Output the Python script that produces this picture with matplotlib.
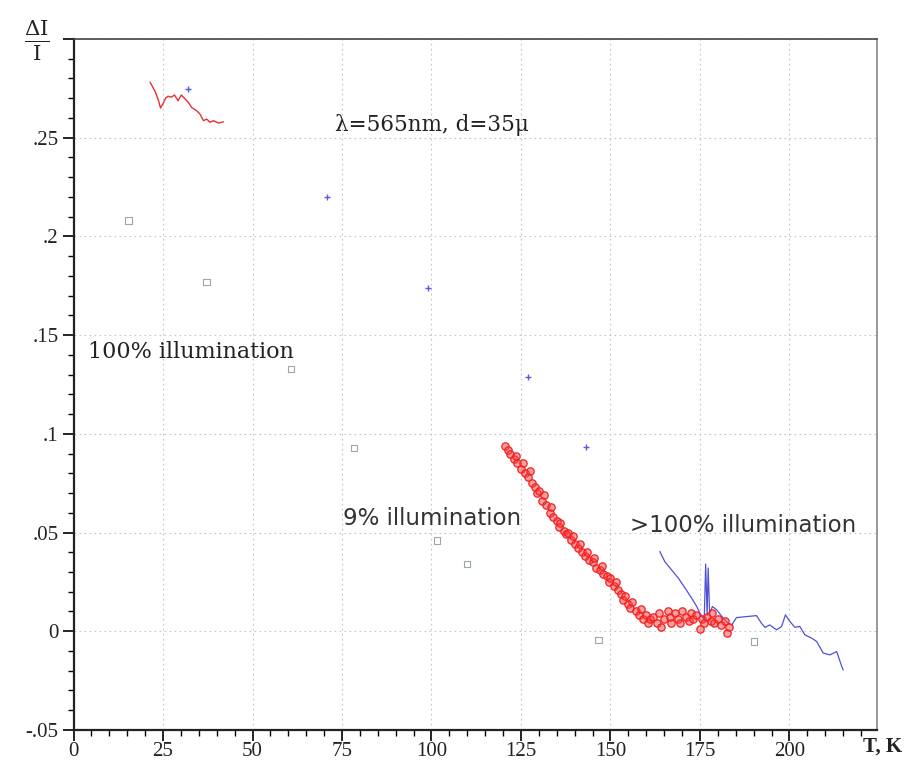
import matplotlib.pyplot as plt
from matplotlib.ticker import MultipleLocator, FixedLocator

plt.rcParams['font.family'] = ['DejaVu Serif']
plt.rcParams['mathtext.fontset'] = 'dejavuserif'

# 100% illumination, low-T red trace
t_red = [21.4, 22.8, 23.7, 24.3, 25.1, 25.7, 26.4, 27.3, 28.2, 29.2, 30.1, 31.1,
         32.0, 33.0, 34.4, 35.3, 36.3, 37.2, 38.1, 39.1, 40.5, 41.8]
y_red = [0.278, 0.2734, 0.269, 0.265, 0.2676, 0.270, 0.271, 0.2705, 0.2716, 0.2687,
         0.2716, 0.2697, 0.268, 0.2653, 0.2636, 0.262, 0.2586, 0.2594, 0.2578,
         0.2586, 0.2574, 0.258]

# blue "+" points
t_plus = [32.0, 70.8, 99.0, 126.9, 143.2]
y_plus = [0.2747, 0.220, 0.1737, 0.1286, 0.0933]

# open squares
t_sq = [15.3, 37.2, 60.7, 78.4, 101.5, 109.9, 146.6, 190.1]
y_sq = [0.208, 0.1769, 0.1328, 0.0928, 0.046, 0.034, -0.0044, -0.0052]

# 9% illumination (red circles)
t_9 = [120.5, 121.5, 122, 123, 123.5, 124, 125, 125.5, 126, 127, 127.5, 128, 129,
       129.5, 130, 131, 131.5, 132, 133, 133.5, 134, 135, 135.5, 136, 137, 137.5,
       138, 139, 139.5, 140, 141, 141.5, 142, 143, 143.5, 144, 145, 145.5, 146,
       147, 147.5, 148, 149, 149.5, 150, 151, 151.5, 152, 153, 153.5, 154, 155,
       155.5, 156, 157, 158, 158.5, 159, 160, 160.5, 161, 162, 163, 163.5, 164,
       165, 166, 166.5, 167, 168, 169, 169.5, 170, 171, 172, 172.5, 173, 174,
       175, 175.5, 176, 177, 178, 178.5, 179, 180, 181, 182, 182.5, 183]
y_9 = [0.094, 0.092, 0.090, 0.087, 0.089, 0.085, 0.082, 0.085, 0.080, 0.078, 0.081,
       0.075, 0.073, 0.070, 0.071, 0.066, 0.069, 0.064, 0.060, 0.063, 0.058, 0.056,
       0.053, 0.055, 0.051, 0.049, 0.050, 0.046, 0.048, 0.044, 0.042, 0.044, 0.040,
       0.038, 0.040, 0.036, 0.035, 0.037, 0.032, 0.031, 0.033, 0.029, 0.028, 0.025,
       0.027, 0.023, 0.025, 0.021, 0.019, 0.016, 0.018, 0.014, 0.012, 0.015, 0.010,
       0.008, 0.011, 0.006, 0.008, 0.004, 0.006, 0.007, 0.004, 0.009, 0.002, 0.006,
       0.010, 0.007, 0.004, 0.009, 0.006, 0.004, 0.010, 0.007, 0.005, 0.009, 0.006,
       0.008, 0.001, 0.006, 0.004, 0.007, 0.005, 0.009, 0.004, 0.006, 0.003, 0.005,
       -0.001, 0.002]

# >100% illumination (blue line)
t_blue = [163.8, 165.2, 167.1, 169.0, 170.9, 172.7, 174.1, 175.0, 176.2, 176.6,
          177.0, 177.3, 177.7, 178.5, 179.7, 181.5, 182.9, 183.9, 185.2, 188.0,
          190.8, 192.2, 193.2, 194.5, 196.4, 197.8, 198.9, 200.1, 201.5, 202.9,
          204.3, 206.2, 207.6, 209.4, 211.3, 213.2, 214.6, 215.0]
y_blue = [0.0403, 0.0352, 0.031, 0.0268, 0.0217, 0.0167, 0.0125, 0.0091, 0.006,
          0.034, 0.008, 0.032, 0.009, 0.0125, 0.0108, 0.0066, 0.004, 0.0032, 0.0069,
          0.0074, 0.0079, 0.004, 0.0019, 0.0032, 0.0007, 0.0024, 0.0083, 0.005,
          0.002, 0.0024, -0.0018, -0.0035, -0.0052, -0.011, -0.012, -0.0103,
          -0.0178, -0.0195]

x_ticks = [0, 25, 50, 75, 100, 125, 150, 175, 200]
x_labels = ['0', '25', '50', '75', '100', '125', '150', '175', '200']
y_ticks = [-0.05, 0, 0.05, 0.1, 0.15, 0.2, 0.25]
y_labels = ['-.05', '0', '.05', '.1', '.15', '.2', '.25']

fig = plt.figure(figsize=(9.08, 7.79), dpi=100)
ax = fig.add_axes([0.081, 0.063, 0.885, 0.887])

ax.plot(t_red, y_red, color='#e83030', lw=1.0)
ax.plot(t_blue, y_blue, color='#5050d8', lw=0.9)
ax.scatter(t_9, y_9, s=28, facecolor=(1, 0.25, 0.25, 0.5), edgecolor='#f02020',
           linewidths=0.9, zorder=3)
ax.scatter(t_plus, y_plus, marker='+', s=22, color='#5a5ad8', linewidths=1.0, zorder=4)
ax.scatter(t_sq, y_sq, marker='s', s=22, facecolor='none', edgecolor='#9aaa9e',
           linewidths=0.8, zorder=4)

ax.set_xlim(0, 224.5)
ax.set_ylim(-0.05, 0.3)
ax.xaxis.set_major_locator(FixedLocator(x_ticks + [225]))
ax.set_xticklabels(x_labels + [''])
ax.xaxis.set_minor_locator(MultipleLocator(5))
ax.yaxis.set_major_locator(FixedLocator(y_ticks + [0.3]))
ax.set_yticklabels(y_labels + [''])
ax.yaxis.set_minor_locator(MultipleLocator(0.01))
ax.tick_params(which='major', length=8, width=1.2, direction='out', labelsize=15)
ax.tick_params(axis='x', which='major', pad=1)
ax.tick_params(axis='y', which='major', pad=3)
ax.tick_params(which='minor', length=4, width=1.0, direction='out')
ax.tick_params(axis='x', which='both', top=False)
ax.tick_params(axis='y', which='both', right=False)
for lab in ax.get_xticklabels() + ax.get_yticklabels():
    lab.set_family('Liberation Serif')
    lab.set_color('#222222')

ax.grid(True, which='major', color='#c4c4c4', linestyle=(0, (1.5, 3)), lw=0.8)

for s in ['left', 'bottom']:
    ax.spines[s].set_linewidth(1.6)
    ax.spines[s].set_color('#222222')
ax.spines['top'].set_linewidth(1.2)
ax.spines['top'].set_color('#444444')
ax.spines['right'].set_linewidth(1.2)
ax.spines['right'].set_color('#888888')

ax.text(73.0, 0.2566, 'λ=565nm, d=35μ', fontsize=15.5, va='center', color='#222222')
ax.text(4.0, 0.1414, '100% illumination', fontsize=16, va='center', color='#222222')
ax.text(75.3, 0.057, '9% illumination', fontsize=16.5, va='center', color='#333333',
        family='DejaVu Sans')
ax.text(155.4, 0.0535, '>100% illumination', fontsize=16.5, va='center',
        color='#333333', family='DejaVu Sans')

fig.text(0.041, 0.948, r'$\frac{\Delta\mathrm{I}}{\mathrm{I}}$', fontsize=22,
         ha='center', va='center', color='#222222')
fig.text(0.972, 0.042, 'T, K', fontsize=15, ha='center', va='center',
         family='Liberation Serif', fontweight='bold', color='#222222')

fig.savefig('out.png', dpi=100)
